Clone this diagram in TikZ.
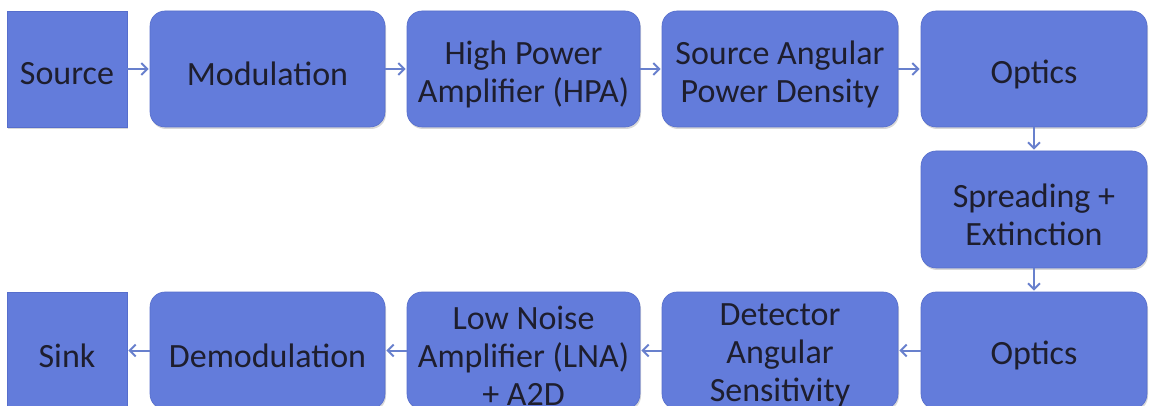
\documentclass[tikz,border=0pt]{standalone}
\usepackage{fontspec}
\setmainfont{Carlito}
\usetikzlibrary{arrows.meta,shadows}
\definecolor{boxfill}{RGB}{99,124,219}
\definecolor{boxedge}{RGB}{86,110,204}
\definecolor{txt}{RGB}{30,30,46}
\definecolor{arr}{RGB}{104,128,205}
\tikzset{
  box/.style={rectangle, rounded corners=15pt, fill=boxfill, draw=boxedge, line width=0.6pt,
    inner sep=0pt,
    drop shadow={shadow xshift=1pt, shadow yshift=-2pt, opacity=0.25, fill=black!60}},
  sqbox/.style={box, sharp corners},
  lbl/.style={text=txt, align=center, inner sep=0pt, yshift=-5pt,
    font=\fontsize{34}{38}\selectfont},
  conn/.style={draw=arr, line width=2pt, -{Straight Barb[length=6pt,width=12pt,line width=2pt]}, shorten >=1pt}
}
\begin{document}
\begin{tikzpicture}[x=1pt,y=-1pt]
\useasboundingbox (0,0) rectangle (1149,406);
\clip (0,0) rectangle (1149,406);
\fill[white] (0,0) rectangle (1149,406);
% top row
\node[sqbox, minimum width=120pt, minimum height=116pt, label={[lbl]center:Source}] (src) at (67,69) {};
\node[box, minimum width=235pt, minimum height=116pt, label={[lbl]center:Modulation}] (mod) at (267.5,69) {};
\node[box, minimum width=233pt, minimum height=116pt, label={[lbl]center:{High Power\\Amplifier (HPA)}}] (hpa) at (523.5,69) {};
\node[box, minimum width=236pt, minimum height=116pt, label={[lbl]center:{Source Angular\\Power Density}}] (sapd) at (780,69) {};
\node[box, minimum width=226pt, minimum height=116pt, label={[lbl]center:Optics}] (opt1) at (1034,69) {};
% middle
\node[box, minimum width=226pt, minimum height=117pt, label={[lbl]center:{Spreading +\\Extinction}}] (spr) at (1034,209.5) {};
% bottom row
\node[box, minimum width=226pt, minimum height=117pt, label={[lbl]center:Optics}] (opt2) at (1034,350.5) {};
\node[box, minimum width=236pt, minimum height=117pt, label={[lbl]center:{Detector\\Angular\\Sensitivity}}] (det) at (780,350.5) {};
\node[box, minimum width=233pt, minimum height=117pt, label={[lbl]center:{Low Noise\\Amplifier (LNA)\\+ A2D}}] (lna) at (523.5,350.5) {};
\node[box, minimum width=235pt, minimum height=117pt, label={[lbl]center:Demodulation}] (dem) at (267.5,350.5) {};
\node[sqbox, minimum width=120pt, minimum height=117pt, label={[lbl]center:Sink}] (sink) at (67,350.5) {};
% connectors
\draw[conn] (src.east) -- (mod.west);
\draw[conn] (mod.east) -- (hpa.west);
\draw[conn] (hpa.east) -- (sapd.west);
\draw[conn] (sapd.east) -- (opt1.west);
\draw[conn] (opt1.south) -- (spr.north);
\draw[conn] (spr.south) -- (opt2.north);
\draw[conn] (opt2.west) -- (det.east);
\draw[conn] (det.west) -- (lna.east);
\draw[conn] (lna.west) -- (dem.east);
\draw[conn] (dem.west) -- (sink.east);
\end{tikzpicture}
\end{document}
